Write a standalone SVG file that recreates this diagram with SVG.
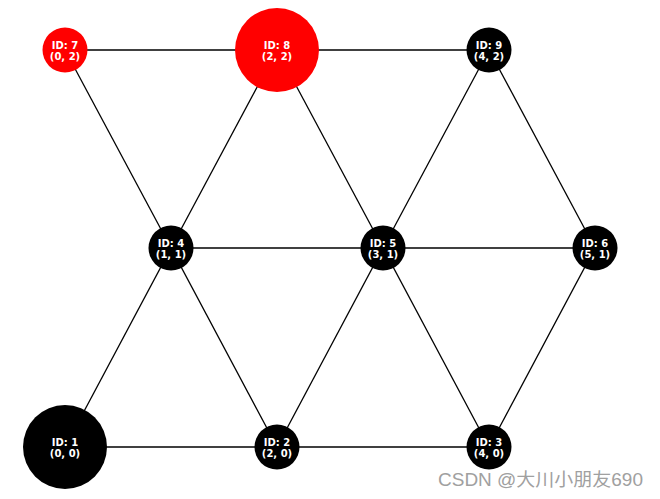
<svg xmlns="http://www.w3.org/2000/svg" width="660" height="499" viewBox="0 0 660 499">
<style>
.e{stroke:#000;stroke-width:1.3;fill:none}
.r{fill:#ff0000}
.b{fill:#000}
.t{font-family:"DejaVu Sans",sans-serif;font-weight:bold;font-size:10px;fill:#fff;text-anchor:middle}
.wm{font-family:"Liberation Sans","Noto Sans CJK SC",sans-serif;font-size:18px;fill:#a0a0a0}
</style>
<rect width="660" height="499" fill="#fff"/>
<g id="edges">
<line class="e" x1="65" y1="50" x2="277" y2="50"/>
<line class="e" x1="277" y1="50" x2="489" y2="50"/>
<line class="e" x1="65" y1="50" x2="171" y2="248"/>
<line class="e" x1="277" y1="50" x2="171" y2="248"/>
<line class="e" x1="277" y1="50" x2="383" y2="248"/>
<line class="e" x1="489" y1="50" x2="383" y2="248"/>
<line class="e" x1="489" y1="50" x2="595" y2="248"/>
<line class="e" x1="171" y1="248" x2="383" y2="248"/>
<line class="e" x1="383" y1="248" x2="595" y2="248"/>
<line class="e" x1="171" y1="248" x2="65" y2="447"/>
<line class="e" x1="171" y1="248" x2="277" y2="447"/>
<line class="e" x1="383" y1="248" x2="277" y2="447"/>
<line class="e" x1="383" y1="248" x2="489" y2="447"/>
<line class="e" x1="595" y1="248" x2="489" y2="447"/>
<line class="e" x1="65" y1="447" x2="277" y2="447"/>
<line class="e" x1="277" y1="447" x2="489" y2="447"/>
</g>
<g id="n7"><circle class="r" cx="65" cy="50" r="22.5"/><text class="t" x="65" y="49">ID: 7</text><text class="t" x="65" y="60">(0, 2)</text></g>
<g id="n8"><circle class="r" cx="277" cy="50" r="42"/><text class="t" x="277" y="49">ID: 8</text><text class="t" x="277" y="60">(2, 2)</text></g>
<g id="n9"><circle class="b" cx="489" cy="50" r="22.5"/><text class="t" x="489" y="49">ID: 9</text><text class="t" x="489" y="60">(4, 2)</text></g>
<g id="n4"><circle class="b" cx="171" cy="248" r="22.5"/><text class="t" x="171" y="247">ID: 4</text><text class="t" x="171" y="258">(1, 1)</text></g>
<g id="n5"><circle class="b" cx="383" cy="248" r="22.5"/><text class="t" x="383" y="247">ID: 5</text><text class="t" x="383" y="258">(3, 1)</text></g>
<g id="n6"><circle class="b" cx="595" cy="248" r="22.5"/><text class="t" x="595" y="247">ID: 6</text><text class="t" x="595" y="258">(5, 1)</text></g>
<g id="n1"><circle class="b" cx="65" cy="447" r="42"/><text class="t" x="65" y="446">ID: 1</text><text class="t" x="65" y="457">(0, 0)</text></g>
<g id="n2"><circle class="b" cx="277" cy="447" r="22.5"/><text class="t" x="277" y="446">ID: 2</text><text class="t" x="277" y="457">(2, 0)</text></g>
<g id="n3"><circle class="b" cx="489" cy="447" r="22.5"/><text class="t" x="489" y="446">ID: 3</text><text class="t" x="489" y="457">(4, 0)</text></g>
<text class="wm" x="438" y="486" textLength="205" lengthAdjust="spacingAndGlyphs">CSDN @大川小朋友690</text>
</svg>
